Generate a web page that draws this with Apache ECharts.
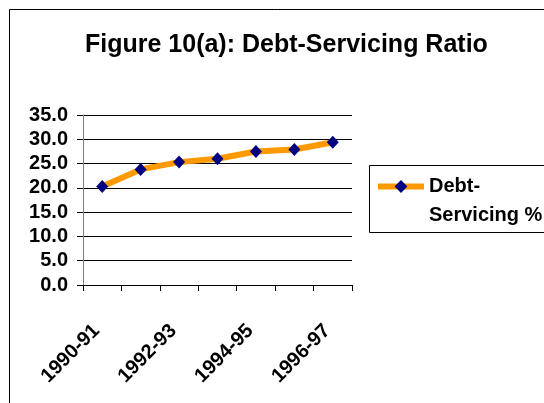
<!DOCTYPE html>
<html>
<head>
    <meta charset="utf-8">
    <title>Figure 10(a): Debt-Servicing Ratio</title>
    <script src="https://cdn.jsdelivr.net/npm/echarts@6/dist/echarts.min.js"></script>
</head>
<body style="margin:0">
<div id="main" style="width: 544px;height:403px;"></div>
<script type="text/javascript">
    // data
    var years = ['1990-91', '1991-92', '1992-93', '1993-94', '1994-95', '1995-96', '1996-97'];
    var debtServicing = [20.3, 23.8, 25.3, 26.0, 27.5, 27.9, 29.4];
    var seriesName = 'Debt-Servicing %';

    var font = '"Liberation Sans", Arial, sans-serif';
    var myChart = echarts.init(document.getElementById('main'));

    myChart.setOption({
        animation: false,
        backgroundColor: '#fff',
        title: {
            text: 'Figure 10(a): Debt-Servicing Ratio',
            left: 80,
            top: 28,
            textStyle: { fontFamily: font, fontSize: 25, fontWeight: 'bold', color: '#000' }
        },
        graphic: [
            // outer chart frame
            { type: 'rect', shape: { x: 9.5, y: 9.5, width: 600, height: 500 },
              style: { fill: null, stroke: '#000', lineWidth: 1 } },
            // legend frame
            { type: 'rect', shape: { x: 369.5, y: 165.5, width: 200, height: 67 },
              style: { fill: null, stroke: '#000', lineWidth: 1 } }
        ],
        legend: {
            left: 375,
            top: 143,
            padding: 0,
            itemWidth: 46,
            itemHeight: 16,
            itemGap: 0,
            data: [seriesName],
            lineStyle: { width: 6, color: '#FF9900' },
            // blank first line so the icon sits beside "Debt-"
            formatter: function () { return ' \nDebt-\nServicing %'; },
            textStyle: { fontFamily: font, fontSize: 20, fontWeight: 'bold', color: '#000', lineHeight: 29 }
        },
        grid: { left: 83, right: 192, top: 115, bottom: 118 },
        xAxis: {
            type: 'category',
            data: years,
            boundaryGap: true,
            axisLine: { lineStyle: { color: '#000', width: 1 } },
            axisTick: { show: true, interval: 0, length: 6, lineStyle: { color: '#000' } },
            axisLabel: {
                interval: 1,
                rotate: 45,
                margin: 37,
                padding: [0, 8, 0, 0],
                fontFamily: font, fontSize: 20, fontWeight: 'bold', color: '#000'
            },
            splitLine: { show: false }
        },
        yAxis: {
            type: 'value',
            min: 0,
            max: 35,
            interval: 5,
            axisLine: { show: true, lineStyle: { color: '#808080', width: 1 } },
            axisTick: { show: true, length: 6, lineStyle: { color: '#000' } },
            axisLabel: {
                margin: 15,
                fontFamily: font, fontSize: 20, fontWeight: 'bold', color: '#000',
                formatter: function (v) { return v.toFixed(1); }
            },
            splitLine: { lineStyle: { color: '#000', width: 1 } }
        },
        series: [{
            name: seriesName,
            type: 'line',
            data: debtServicing,
            symbol: 'diamond',
            symbolSize: [12, 13],
            lineStyle: { color: '#FF9900', width: 6 },
            itemStyle: { color: '#000080', borderWidth: 0 }
        }]
    });
</script>
</body>
</html>
